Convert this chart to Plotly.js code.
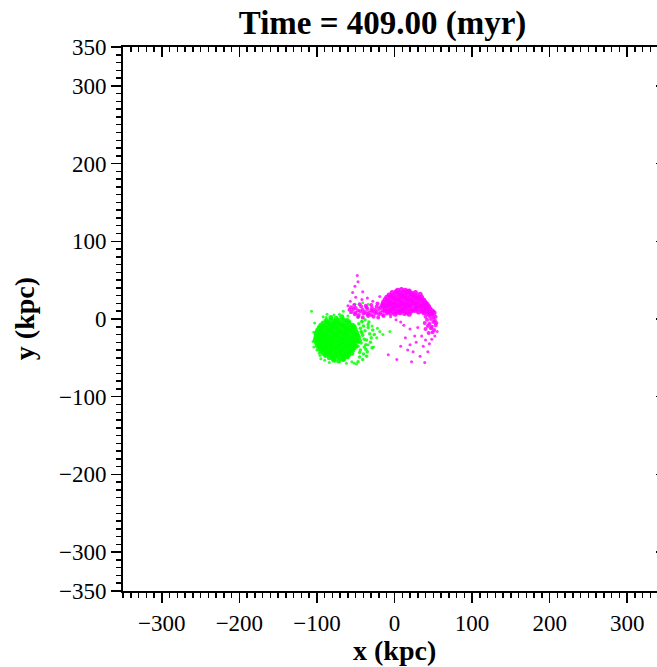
<!DOCTYPE html>
<html>
<head>
<meta charset="utf-8">
<script src="https://cdn.plot.ly/plotly-3.0.1.min.js"></script>
<style>
html,body{margin:0;padding:0;overflow:hidden;background:#fff;}
#chart{width:690px;height:667px;}
</style>
</head>
<body>
<div id="chart"></div>
<script>
// ---- Data (kpc) ----
const titleText = "Time = 409.00 (myr)";
const xTitle = "x (kpc)";
const yTitle = "y (kpc)";
const xTickVals = [-300, -200, -100, 0, 100, 200, 300];
const yTickVals = [-350, -300, -200, -100, 0, 100, 200, 300, 350];

// green galaxy: dense core
const greenCoreX = [
  -82,-75,-68,
  -88,-82,-77,-72,-66,-61,
  -92,-87,-83,-78,-74,-69,-64,-59,
  -95,-90,-86,-81,-77,-72,-68,-63,-58,-54,
  -97,-93,-88,-84,-80,-75,-71,-66,-62,-57,-52,
  -99,-95,-91,-86,-82,-78,-73,-69,-64,-60,-55,-51,
  -100,-96,-92,-88,-83,-79,-75,-70,-66,-62,-57,-53,-49,
  -101,-97,-93,-89,-85,-80,-76,-72,-67,-63,-59,-54,-50,
  -101,-98,-94,-90,-85,-81,-77,-73,-68,-64,-60,-55,-51,-47,
  -102,-98,-94,-90,-86,-82,-78,-73,-69,-65,-61,-56,-52,-48,
  -101,-97,-93,-89,-85,-81,-77,-72,-68,-64,-60,-56,-52,-48,
  -100,-96,-92,-88,-84,-80,-76,-71,-67,-63,-59,-55,-51,
  -99,-95,-91,-87,-83,-79,-74,-70,-66,-62,-58,-54,-50,
  -97,-93,-89,-85,-81,-77,-73,-68,-64,-60,-56,-52,
  -95,-90,-86,-82,-78,-74,-70,-66,-62,-58,-54,
  -92,-88,-84,-80,-76,-71,-67,-63,-59,-55,
  -89,-84,-80,-76,-71,-67,-63,-59,
  -84,-79,-75,-70,-66,-61,
  -78,-72,-66
];
const greenCoreY = [
  2,1,3,
  -2,-1,-3,-2,-1,-2,
  -5,-4,-6,-5,-4,-6,-5,-4,
  -8,-9,-7,-8,-9,-7,-8,-9,-7,-8,
  -11,-10,-12,-11,-10,-12,-11,-10,-12,-11,-10,
  -14,-15,-13,-14,-15,-13,-14,-15,-13,-14,-15,-13,
  -17,-16,-18,-17,-16,-18,-17,-16,-18,-17,-16,-18,-17,
  -20,-21,-19,-20,-21,-19,-20,-21,-19,-20,-21,-19,-20,
  -23,-22,-24,-23,-22,-24,-23,-22,-24,-23,-22,-24,-23,-22,
  -26,-27,-25,-26,-27,-25,-26,-27,-25,-26,-27,-25,-26,-27,
  -29,-28,-30,-29,-28,-30,-29,-28,-30,-29,-28,-30,-29,-28,
  -32,-33,-31,-32,-33,-31,-32,-33,-31,-32,-33,-31,-32,
  -35,-34,-36,-35,-34,-36,-35,-34,-36,-35,-34,-36,-35,
  -38,-39,-37,-38,-39,-37,-38,-39,-37,-38,-39,-37,
  -41,-40,-42,-41,-40,-42,-41,-40,-42,-41,-40,
  -44,-45,-43,-44,-45,-43,-44,-45,-43,-44,
  -47,-46,-48,-47,-46,-48,-47,-46,
  -50,-51,-49,-50,-51,-49,
  -53,-54,-52
];
// green galaxy: looser extension towards the right
const greenExtX = [-46,-44,-42,-45,-40,-38,-43,-41,-36,-39,-34,-44,-37,-32,-40,-35,-30,-42,-33,-28,-38,-31,-26,-45,-36,-29,-41,-34,-47,-39,-43,-37,-46,-47,-45,-44,-48];
const greenExtY = [-6,-12,-18,-24,-9,-15,-31,-21,-27,-36,-11,-40,-33,-19,-45,-42,-24,-3,-4,-14,-1,-30,-20,-49,-48,-37,-52,-7,-55,-26,-16,-39,-30,-35,-43,-28,-20];
// green galaxy: scattered outliers
const greenOutX = [-107,-103,-66,-51,-41,-34,-42,-29,-19,-6,-23,-34,-104,-105,-100,-96,-90,-84,-62,-55,-92,-87,-60,-57,-97,-22,-15,-27,-49,-78,-71,-104,-95,-88,-52,-47];
const greenOutY = [10,-5,10,19,21,19,-4,-9,-16,-16,-24,-33,-17,-29,-40,-47,-53,-56,-57,-55,3,6,4,8,-44,-12,-20,-36,-58,5,6,-36,-51,2,-57,2];

// magenta galaxy: dense body
const magCoreX = [
  4,9,14,19,
  -3,2,7,12,17,22,27,
  -7,-2,3,8,13,18,23,28,33,
  -10,-5,0,5,10,15,20,25,30,35,
  -12,-7,-2,3,8,13,18,23,28,33,38,
  -14,-9,-4,1,6,11,16,21,26,31,36,40,
  -15,-10,-5,0,5,10,15,20,25,30,35,39,42,
  -14,-9,-4,1,6,11,16,21,27,32,37,41,44,
  -12,-7,-2,3,8,13,18,23,28,33,38,42,46,
  -9,-4,1,6,11,16,21,26,31,36,41,45,49,
  -5,1,7,13,19,38,43,48,51
];
const magCoreY = [
  37,38,37,36,
  34,35,33,34,35,33,34,
  31,30,32,31,30,32,31,30,32,
  28,29,27,28,29,27,28,29,27,28,
  25,24,26,25,24,26,25,24,26,25,24,
  22,23,21,22,23,21,22,23,21,22,23,21,
  19,18,20,19,18,20,19,18,20,19,18,20,19,
  16,17,15,16,17,15,16,17,15,16,17,15,16,
  13,12,14,13,12,14,13,12,14,13,12,14,13,
  10,11,9,10,11,9,10,11,9,10,11,9,10,
  7,6,8,7,6,8,7,6,8
];
// magenta galaxy: right-hand arm curling down
const magArmX = [40,45,50,53, 42,47,52, 39,45,50,54, 43,48,53, 40,47,51, 44,49];
const magArmY = [3,4,2,3, -1,0,-2, -5,-6,-4,-5, -9,-10,-8, -13,-12,-14, -18,-17];
// magenta galaxy: tail towards the left
const magBandX = [
  -52,-45,-37,-30,-22,-16,
  -56,-50,-43,-36,-29,-23,-18,
  -58,-53,-47,-41,-35,-30,-25,-20,-15,
  -55,-50,-44,-38,-33,-28,-23,-18,-13,
  -51,-46,-40,-35,-30,-25,-20,-15,-10,
  -47,-41,-34,-27,-21,-14
];
const magBandY = [
  18,19,17,18,20,17,
  15,14,16,15,14,16,15,
  12,13,11,12,13,11,12,13,11,
  9,8,10,9,8,10,9,8,10,
  6,5,7,6,5,7,6,5,7,
  3,2,4,3,2,4
];
// magenta galaxy: scattered outliers
const magHaloX = [-47,-51,-54,-41,-57,-42,-19,-48,-35,-60,-28,-50,20,14,20,24,33,39,3,-8,37,43,48,55,26,30,22,8,2,-5,12,28,45,35,17,40,52,8];
const magHaloY = [48,42,34,35,23,25,29,56,27,17,23,28,-13,-24,-33,-42,-48,-56,-52,-46,-35,-42,-26,-16,-22,-11,-55,-4,-1,3,-8,-30,-32,-22,-40,-27,-22,-35];

// ---- Plot ----
const serif = "'Liberation Serif', 'Times New Roman', Times, serif";
const green = "#00ff00";
const magenta = "#ff00ff";

function pts(x, y, color, size, op) {
  return {x: x, y: y, type: "scatter", mode: "markers", showlegend: false,
          marker: {color: color, size: size, opacity: op, line: {width: 0}}};
}

const traces = [
  pts(greenCoreX, greenCoreY, green, 5, 0.9),
  pts(greenExtX, greenExtY, green, 3.5, 0.85),
  pts(greenOutX, greenOutY, green, 3, 0.8),
  pts(magCoreX, magCoreY, magenta, 5, 0.9),
  pts(magArmX, magArmY, magenta, 4, 0.85),
  pts(magBandX, magBandY, magenta, 4, 0.85),
  pts(magHaloX, magHaloY, magenta, 3, 0.8),
  {x: [], y: [], xaxis: "x2", yaxis: "y2", type: "scatter", mode: "markers", showlegend: false}
];

const axisCommon = {
  range: [-350, 350], showgrid: false, zeroline: false,
  showline: true, linecolor: "#000", linewidth: 2,
  ticklen: 10, tickwidth: 1.5, tickcolor: "#000",
  tickfont: {family: serif, size: 23, color: "#000"}
};
const minorOut = {dtick: 10, tick0: 0, ticks: "outside", ticklen: 5, tickwidth: 1.5, tickcolor: "#000"};
const minorIn = {dtick: 10, tick0: 0, ticks: "inside", ticklen: 5, tickwidth: 1.5, tickcolor: "#000"};
const axisTitleFont = {family: serif, size: 28, color: "#000"};

const layout = {
  width: 690, height: 667,
  margin: {l: 123, r: 24, t: 47, b: 76},
  font: {family: serif, color: "#000"},
  paper_bgcolor: "#fff", plot_bgcolor: "#fff",
  title: {text: "<b>" + titleText + "</b>", x: 0.478, xref: "paper", xanchor: "center",
          y: 0.967, yanchor: "middle",
          font: {family: serif, size: 33, color: "#000"}},
  xaxis: Object.assign({}, axisCommon, {
    ticks: "outside", tickmode: "array", tickvals: xTickVals, minor: minorOut
  }),
  yaxis: Object.assign({}, axisCommon, {
    ticks: "outside", tickmode: "array", tickvals: yTickVals, minor: minorOut
  }),
  xaxis2: Object.assign({}, axisCommon, {
    overlaying: "x", side: "top", anchor: "y2", ticks: "inside", showticklabels: false,
    tickmode: "array", tickvals: xTickVals, minor: minorIn
  }),
  yaxis2: Object.assign({}, axisCommon, {
    overlaying: "y", side: "right", anchor: "x2", ticks: "inside", showticklabels: false,
    tickmode: "array", tickvals: yTickVals, minor: minorIn
  }),
  annotations: [
    {text: "<b>" + xTitle + "</b>", xref: "paper", yref: "paper", x: 0.5, y: -0.1085,
     xanchor: "center", yanchor: "middle", showarrow: false, borderpad: 0, font: axisTitleFont},
    {text: "<b>" + yTitle + "</b>", xref: "paper", yref: "paper", x: -0.182, y: 0.5,
     xanchor: "center", yanchor: "middle", textangle: -90, showarrow: false, font: axisTitleFont}
  ]
};

Plotly.newPlot("chart", traces, layout, {staticPlot: true, displayModeBar: false});
</script>
</body>
</html>
